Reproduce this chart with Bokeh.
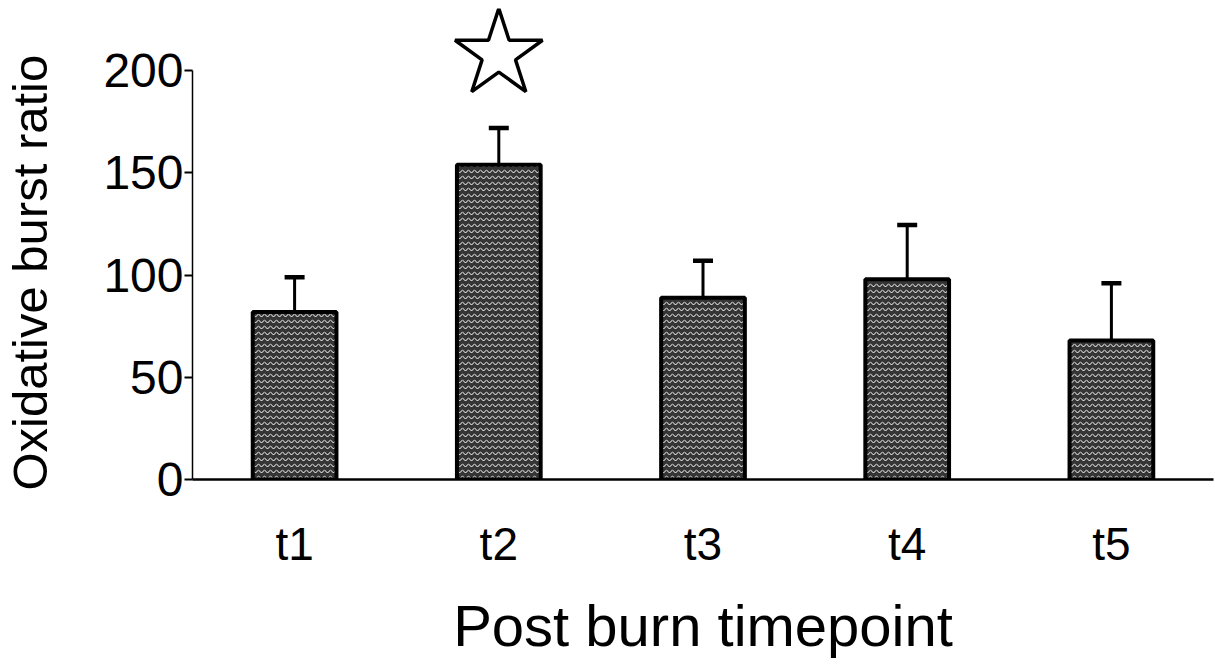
from bokeh.plotting import figure
from bokeh.models import ColumnDataSource, Whisker, TeeHead, Range1d, FixedTicker, FactorRange, Title
from bokeh.embed import file_html
from bokeh.resources import INLINE

# ---- data ----
timepoints = ["t1", "t2", "t3", "t4", "t5"]
burst_ratio = [82, 154, 89, 98, 68]
burst_error = [17, 18, 18, 26.5, 28]
y_ticks = [0, 50, 100, 150, 200]
star_points = ["t2"]
star_values = [208]
y_title = "Oxidative burst ratio"
x_title = "Post burn timepoint"

upper = [m + e for m, e in zip(burst_ratio, burst_error)]
src = ColumnDataSource(dict(x=timepoints, top=burst_ratio, upper=upper))

FONT = "Liberation Sans"

p = figure(width=1215, height=666, output_backend="svg", toolbar_location=None,
           x_range=FactorRange(*timepoints, range_padding=0),
           y_range=Range1d(0, 230.5),
           min_border_left=192, min_border_right=2, min_border_top=8, min_border_bottom=187)
p.outline_line_color = None
p.xgrid.visible = False
p.ygrid.visible = False
p.background_fill_color = "white"
p.border_fill_color = "white"

p.vbar(x="x", top="top", width=0.41, source=src, fill_color="#353535",
       hatch_pattern="horizontal_wave", hatch_color="white", hatch_scale=6, hatch_weight=1,
       line_color="black", line_width=4)

wh = Whisker(base="x", lower="top", upper="upper", source=src, dimension="height",
             line_color="black", line_width=3,
             upper_head=TeeHead(size=20, line_width=4.5, line_color="black"), lower_head=None)
p.add_layout(wh)

p.scatter(x=star_points, y=star_values, marker="star", size=92, fill_color="white",
          line_color="black", line_width=3.5)

# y axis
ya = p.yaxis[0]
ya.bounds = (0, 200)
ya.ticker = FixedTicker(ticks=y_ticks)
ya.minor_tick_line_color = None
ya.major_tick_out = 8
ya.major_tick_in = 0
ya.major_tick_line_width = 2
ya.axis_line_width = 1.5
ya.major_label_standoff = 1
ya.major_label_text_font = FONT
ya.major_label_text_font_size = "48px"
ya.major_label_text_color = "black"
# blank spacer label to push the title panel outwards
ya.axis_label = " "
ya.axis_label_text_font_size = "10px"
ya.axis_label_standoff = 26

# y axis title, starting just below the zero line and reading upwards
p.add_layout(Title(text=y_title, align="left", offset=-11, vertical_align="top", standoff=4,
                   text_font=FONT, text_font_size="49px", text_font_style="normal",
                   text_color="black"), "left")

# x axis
xa = p.xaxis[0]
xa.axis_line_width = 2.5
xa.major_tick_line_color = None
xa.minor_tick_line_color = None
xa.major_tick_out = 0
xa.major_tick_in = 0
xa.major_label_standoff = 38
xa.major_label_text_font = FONT
xa.major_label_text_font_size = "46px"
xa.major_label_text_color = "black"
xa.axis_label = x_title
xa.axis_label_text_font = FONT
xa.axis_label_text_font_size = "58px"
xa.axis_label_text_font_style = "normal"
xa.axis_label_text_color = "black"
xa.axis_label_standoff = 20

open("out.html", "w").write(file_html(p, INLINE))
